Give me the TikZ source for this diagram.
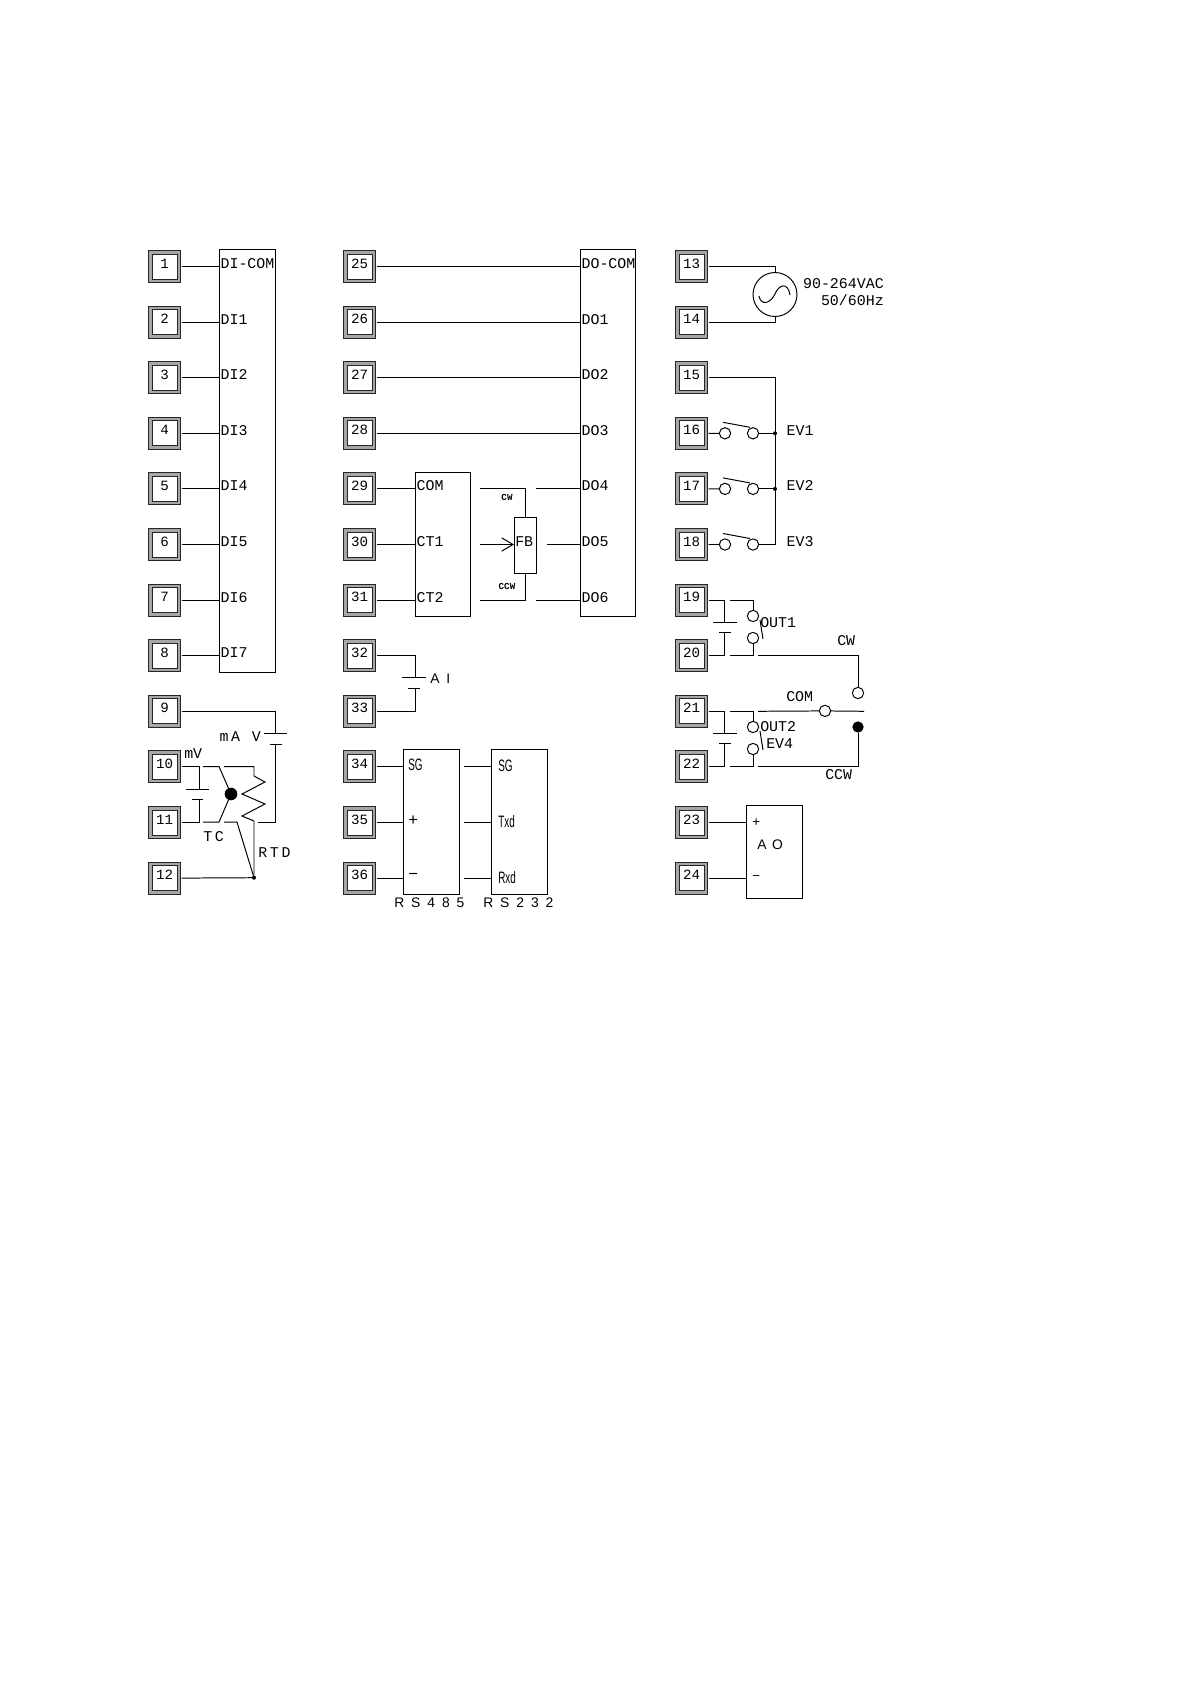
\documentclass[tikz,border=0pt]{standalone}
\usepackage{fontspec}
\usetikzlibrary{fit,arrows.meta}
\newfontfamily\monofnt{Liberation Mono}
\newfontfamily\monowide[LetterSpace=18]{Liberation Mono}
\newfontfamily\sansfnt{Liberation Sans}
\newfontfamily\narrowfnt[FakeStretch=0.6]{Liberation Sans}
\newfontfamily\widefnt[LetterSpace=40]{Liberation Sans}
\newfontfamily\widerfnt[LetterSpace=50]{Liberation Sans}
\tikzset{
  wire/.style={line width=0.74pt,draw=black},
  terminal/.style={draw=black!85,line width=0.75pt,double=black!35,double distance=1.9pt,fill=white,
    minimum size=21.4pt,inner sep=0pt,outer sep=2.1pt,text depth=5.5pt,text height=8pt,
    font=\monofnt\fontsize{10.6}{12}\selectfont},
  block/.style={wire,inner sep=0pt,outer sep=0pt},
  lbl/.style={anchor=west,inner sep=1pt,text depth=5pt,text height=8pt,
    font=\monofnt\fontsize{11.2}{12}\selectfont},
  tight/.style={lbl,inner sep=0pt,text depth=0pt},
  small/.style={inner sep=0pt,font=\monofnt\bfseries\fontsize{6.9}{7}\selectfont},
  narrow/.style={anchor=west,inner sep=0pt,font=\sansfnt\fontsize{12.4}{13}\selectfont},
  wide/.style={anchor=west,inner sep=0pt,font=\widefnt\fontsize{10.4}{11}\selectfont},
  spaced/.style={anchor=west,inner sep=0pt,font=\monowide\fontsize{11.2}{12}\selectfont},
  contact/.style={circle,wire,fill=white,minimum size=8.5pt,inner sep=0pt,outer sep=0pt},
  bigdot/.style={circle,fill=black,minimum size=8.5pt,inner sep=0pt,outer sep=0pt},
  joint/.style={circle,fill=black,minimum size=3pt,inner sep=0pt,outer sep=0pt}
}
\begin{document}
\begin{tikzpicture}[x=0.75pt,y=0.75pt,yscale=-1,xscale=1]
\useasboundingbox (0,0) rectangle (1191,1684);

% terminals
\foreach \n in {1,...,12}
  \node[terminal] (t\n) at (164.5,{266.5+55.6*(\n-1)}) {\n\hspace{5pt}};
\foreach \n in {13,...,24}
  \node[terminal] (t\n) at (691.5,{266.5+55.6*(\n-13)}) {\n\hspace{5pt}};
\foreach \n in {25,...,36}
  \node[terminal] (t\n) at (359.5,{266.5+55.6*(\n-25)}) {\n\hspace{5pt}};

% blocks
\node[block,fit={(219,249) (275,672)}] (dibox) {};
\node[block,fit={(580,249) (635,616)}] (dobox) {};
\node[block,fit={(415,472) (470,616)}] (ctbox) {};
\node[block,fit={(514,517) (536,573)}] (fbbox) {};
\node[block,fit={(403,749) (459,894)}] (rsfour) {};
\node[block,fit={(491,749) (547,894)}] (rstwo) {};
\node[block,fit={(746,805) (802,898)}] (aobox) {};

% digital inputs
\foreach \n/\txt in {1/DI-COM,2/DI1,3/DI2,4/DI3,5/DI4,6/DI5,7/DI6,8/DI7}{
  \draw[wire] (t\n.east) -- (t\n.east -| dibox.west);
  \node[lbl] (di\n) at (dibox.west |- t\n) {\txt};
}
% digital outputs
\foreach \n/\txt in {25/DO-COM,26/DO1,27/DO2,28/DO3}{
  \draw[wire] (t\n.east) -- (t\n.east -| dobox.west);
  \node[lbl] (do\n) at (dobox.west |- t\n) {\txt};
}
\foreach \n/\txt in {29/DO4,30/DO5,31/DO6}
  \node[lbl] (do\n) at (dobox.west |- t\n) {\txt};
\foreach \n/\txt in {29/COM,30/CT1,31/CT2}{
  \draw[wire] (t\n.east) -- (t\n.east -| ctbox.west);
  \node[lbl] (ct\n) at (ctbox.west |- t\n) {\txt};
}

% feedback slidewire
\coordinate (fbtop) at (480,488.9);
\coordinate (fbmid) at (480,544.5);
\coordinate (fbbot) at (480,600.1);
\draw[wire] (fbtop) -| (fbbox.north);
\draw[wire] (fbbot) -| (fbbox.south);
\draw[wire,-{Straight Barb[length=8.5pt,width=10pt]}] (fbmid) -- (fbbox.west |- fbmid);
\draw[wire] (536,488.9) -- (dobox.west |- fbtop);
\draw[wire] (547,544.5) -- (dobox.west |- fbmid);
\draw[wire] (536,600.1) -- (dobox.west |- fbbot);
\node[lbl,inner sep=0pt] (fbtxt) at (515,544.5) {FB};
\node[small] (fbcw) at (507,497) {CW};
\node[small] (fbccw) at (507,586) {CCW};

% AI
\coordinate (aiA) at (415,677);
\coordinate (aiB) at (415,688);
\draw[wire] (t32.east) -| (aiA);
\draw[wire] (t33.east) -| (aiB);
\draw[wire] (aiA) ++(-13,0) -- ++(24,0);
\draw[wire] (aiB) ++(-7,0) -- ++(12,0);
\node[wide,font=\widerfnt\fontsize{10.4}{11}\selectfont] (aitxt) at (430,679) {AI};

% serial
\foreach \n/\txt/\sub in {34/{\narrowfnt SG}/SG,35/+/Txd,36/−/Rxd}{
  \draw[wire] (t\n.east) -- (t\n.east -| rsfour.west);
  \draw[wire] (464,0 |- t\n.east) -- (t\n.east -| rstwo.west);
  \node[narrow] (rsa\n) at (408,{266.5+55.6*(\n-25)-2}) {\txt};
  \node[narrow] (rsb\n) at (498,{266.5+55.6*(\n-25)-1}) {\narrowfnt\sub};
}
\node[wide,font=\widerfnt\fontsize{10.4}{11}\selectfont] (rsfourtxt) at (394,903) {RS485};
\node[wide,font=\widerfnt\fontsize{10.4}{11}\selectfont] (rstwotxt) at (483,903) {RS232};

% analog input wiring
\coordinate (maA) at (275,733);
\coordinate (maB) at (275,744);
\coordinate (maE) at (258,822.1);
\draw[wire] (t9.east) -| (maA);
\draw[wire] (maE) -| (maB);
\draw[wire] (maA) ++(-11,0) -- ++(23,0);
\draw[wire] (maB) ++(-5,0) -- ++(12,0);
\node[spaced,anchor=east] (matxt) at (261,737) {mA V};
\coordinate (mvA) at (199,789);
\coordinate (mvB) at (199,799);
\draw[wire] (t10.east) -| (mvA);
\draw[wire] (t11.east) -| (mvB);
\draw[wire] (mvA) ++(-13,0) -- ++(23,0);
\draw[wire] (mvB) ++(-7,0) -- ++(11,0);
\node[tight] (mvtxt) at (184,753) {mV};
\node[bigdot,minimum size=9.5pt] (tcdot) at (231,794) {};
\draw[wire] (203,766.5) -- (219,766.5) -- (tcdot) -- (219,822.1) -- (203,822.1);
\node[spaced] (tctxt) at (203,837) {TC};
\node[joint] (rtdjoint) at (254,877.7) {};
\draw[wire] (t12.east) -- (rtdjoint);
\draw[wire] (224,766.5) -- (254,766.5) -- (254,776) -- (265,782) -- (242,794) -- (265,804) -- (242,816) -- (254,821) -- (rtdjoint);
\draw[wire] (224,822.1) -- (237,822.1) -- (rtdjoint);
\node[spaced] (rtdtxt) at (258,853) {RTD};

% power
\node[circle,wire,minimum size=33pt,inner sep=0pt] (acsrc) at (775,294.5) {};
\draw[wire] (t13.east) -| (acsrc.north);
\draw[wire] (t14.east) -| (acsrc.south);
\draw[wire] (759,296) .. controls (761,306) and (770,304) .. (775,294) .. controls (779,284) and (788,282) .. (790,295);
\node[tight,anchor=east] (actxtA) at (884,283) {90-264VAC};
\node[tight,anchor=east] (actxtB) at (884,300) {50/60Hz};

% event inputs
\foreach \n/\y/\txt in {16/433.3/EV1,17/488.9/EV2,18/544.5/EV3}{
  \node[contact] (a\n) at (725,\y) {};
  \node[contact] (b\n) at (753,\y) {};
  \coordinate (j\n) at (775,\y);
  \draw[wire] (t\n.east) -- (a\n);
  \draw[wire] (b\n) -- (j\n);
  \draw[wire] (723,\y-11) -- (750,\y-6);
  \node[lbl] (txt\n) at (785,\y) {\txt};
}
\draw[wire] (t15.east) -| (j18) -- (b18);
\node[joint] (dot16) at (j16) {};
\node[joint] (dot17) at (j17) {};

% relay outputs
\foreach \u/\l/\ya/\yb/\yc/\yd in {19/20/622/632/616/638,21/22/733/743/727/749}{
  \coordinate (capA\u) at (724,\ya);
  \coordinate (capB\u) at (724,\yb);
  \draw[wire] (t\u.east) -| (capA\u);
  \draw[wire] (t\l.east) -| (capB\u);
  \draw[wire] (capA\u) ++(-11,0) -- ++(24,0);
  \draw[wire] (capB\u) ++(-5,0) -- ++(12,0);
  \node[contact] (o\u) at (753,\yc) {};
  \node[contact] (o\l) at (753,\yd) {};
  \coordinate (n\u) at (730,0 |- t\u);
  \coordinate (n\l) at (730,0 |- t\l);
  \draw[wire] (n\u) -| (o\u);
  \draw[wire] (n\l) -| (o\l);
  \draw[wire] (760,\yc+4) -- (763,\yd+1);
}
\node[lbl,inner sep=0pt] (out1txt) at (760,625) {OUT1};
\node[lbl,inner sep=0pt] (out2txt) at (760,729) {OUT2};
\node[lbl,inner sep=0pt] (ev4txt) at (766,746) {EV4};
\node[contact] (cwpt) at (858,693) {};
\node[contact] (compt) at (825,710.9) {};
\node[bigdot] (ccwpt) at (858,727) {};
\coordinate (cwfrom) at (758,0 |- t20);
\coordinate (comfrom) at (758,0 |- t21);
\coordinate (comend) at (864,0 |- t21);
\coordinate (ccwfrom) at (758,0 |- t22);
\draw[wire] (cwfrom) -| (cwpt);
\draw[wire] (comfrom) -- (compt);
\draw[wire] (compt) -- (comend);
\draw[wire] (ccwfrom) -| (ccwpt);
\node[tight] (cwtxt) at (837,640) {CW};
\node[tight] (comtxt) at (786,696) {COM};
\node[tight] (ccwtxt) at (825,774) {CCW};

% analog output
\draw[wire] (t23.east) -- (t23.east -| aobox.west);
\draw[wire] (t24.east) -- (t24.east -| aobox.west);
\node[narrow,font=\sansfnt\fontsize{10}{11}\selectfont] (aoplus) at (752,823) {+};
\node[narrow,font=\sansfnt\fontsize{10}{11}\selectfont] (aominus) at (752,878) {−};
\node[wide] (aotxt) at (757,845) {AO};
\end{tikzpicture}
\end{document}
